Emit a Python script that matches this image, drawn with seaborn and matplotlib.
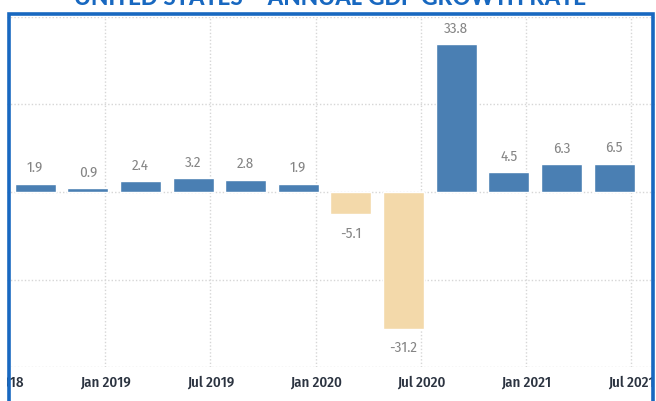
import numpy as np
import pandas as pd
import matplotlib
matplotlib.use("Agg")
import matplotlib.pyplot as plt
from matplotlib import font_manager
from matplotlib.font_manager import FontProperties
from matplotlib.lines import Line2D
from matplotlib.patches import Rectangle
import seaborn as sns

# Quarterly GDP growth, annualized (%)
quarters = ["2018Q3", "2018Q4", "2019Q1", "2019Q2", "2019Q3", "2019Q4",
            "2020Q1", "2020Q2", "2020Q3", "2020Q4", "2021Q1", "2021Q2"]
growth = [1.9, 0.9, 2.4, 3.2, 2.8, 1.9, -5.1, -31.2, 33.8, 4.5, 6.3, 6.5]
tick_labels = ["Jul 2018", "Jan 2019", "Jul 2019", "Jan 2020",
               "Jul 2020", "Jan 2021", "Jul 2021"]
title = "UNITED STATES \u2013 ANNUAL GDP GROWTH RATE"

df = pd.DataFrame({"quarter": quarters, "growth": growth})
df["sign"] = np.where(df["growth"] >= 0, "up", "down")

sns.set_style("white")

installed = {f.name for f in font_manager.fontManager.ttflist}


def first_installed(prefs, default):
    for fam in prefs:
        if fam in installed:
            return fam
    return default


narrow_family = first_installed(
    ["Fira Sans Condensed", "Roboto Condensed", "PT Sans Narrow",
     "Open Sans Condensed", "Archivo Narrow", "Asap Condensed",
     "Barlow Semi Condensed"], "Roboto")
title_family = first_installed(["Carlito", "Lato"], "DejaVu Sans")

W, H = 656, 401
fig = plt.figure(figsize=(W / 100, H / 100), dpi=100)
fig.patch.set_facecolor("white")
renderer = fig.canvas.get_renderer()


def fitted(sample, width_px, weight):
    """Font properties sized so that `sample` is width_px wide."""
    fp = FontProperties(family=narrow_family, weight=weight, size=10)
    t = fig.text(0, 0, sample, fontproperties=fp)
    w = t.get_window_extent(renderer).width
    t.remove()
    fp.set_size(10 * width_px / w)
    return fp


tick_fp = fitted("Jan 2020", 52, "medium")
value_fp = fitted("33.8", 24, "normal")

# plot area: y from -40 (px 367) to 40 (px 17), full figure width
ax = fig.add_axes([0, (H - 367) / H, 1, 350 / H])

palette = {"up": "#4a7fb3", "down": "#f3d9aa"}
sns.barplot(data=df, x="quarter", y="growth", hue="sign", palette=palette,
            dodge=False, width=0.78, legend=False, ax=ax, saturation=1,
            order=quarters, zorder=3)

step = 52.64  # px per quarter
ax.set_xlim(-35 / step, (W - 35) / step)
ax.set_ylim(-40, 40)

for cont in ax.containers:
    vals = [b.get_height() for b in cont]
    neg = len(vals) > 0 and vals[0] < 0
    ax.bar_label(cont, fmt="%.1f", padding=9 if neg else 6,
                 color="#858585", fontproperties=value_fp)

# ticks every second quarter, offset to month starts
tick_pos = np.arange(-2, 12, 2) + 1.33
ax.set_xticks(tick_pos)
ax.set_xticklabels(tick_labels, color="#2b3340")
for t in ax.get_xticklabels():
    t.set_fontproperties(tick_fp)
ax.set_yticks([-40, -20, 0, 20, 40])
ax.tick_params(axis="both", length=0)
ax.tick_params(axis="x", pad=6)
ax.tick_params(axis="y", labelleft=False)
ax.set_xlabel("")
ax.set_ylabel("")
for s in ax.spines.values():
    s.set_visible(False)
ax.grid(True, axis="both", color="#d6d6d6", linestyle=(0, (1, 1.5)), linewidth=1, zorder=0)
ax.set_axisbelow(True)


def fx(px):
    return px / W


def fy(py):
    return 1 - py / H


# white margins around the framed panel
for (x0, y0, w, h) in [(0, 0, 7, H), (0, 0, W, 12), (655, 0, 1, H)]:
    fig.add_artist(Rectangle((fx(x0), fy(y0 + h)), w / W, h / H,
                             transform=fig.transFigure, facecolor="white",
                             edgecolor="none", zorder=5))

# open-bottom blue frame
frame = Line2D([fx(8.7), fx(8.7), fx(653), fx(653)],
               [fy(H + 5), fy(13.7), fy(13.7), fy(H + 5)],
               transform=fig.transFigure, color="#1868c0", linewidth=2.6,
               solid_joinstyle="miter", zorder=6)
fig.add_artist(frame)

title_txt = fig.text(fx(330), fy(5), title, ha="center", va="baseline", fontsize=16,
                     fontweight="bold", color="#1868c0", family=title_family, zorder=7)
tw = title_txt.get_window_extent(renderer).width
title_txt.set_fontsize(16 * 516 / tw)

fig.savefig("out.png", dpi=100)
